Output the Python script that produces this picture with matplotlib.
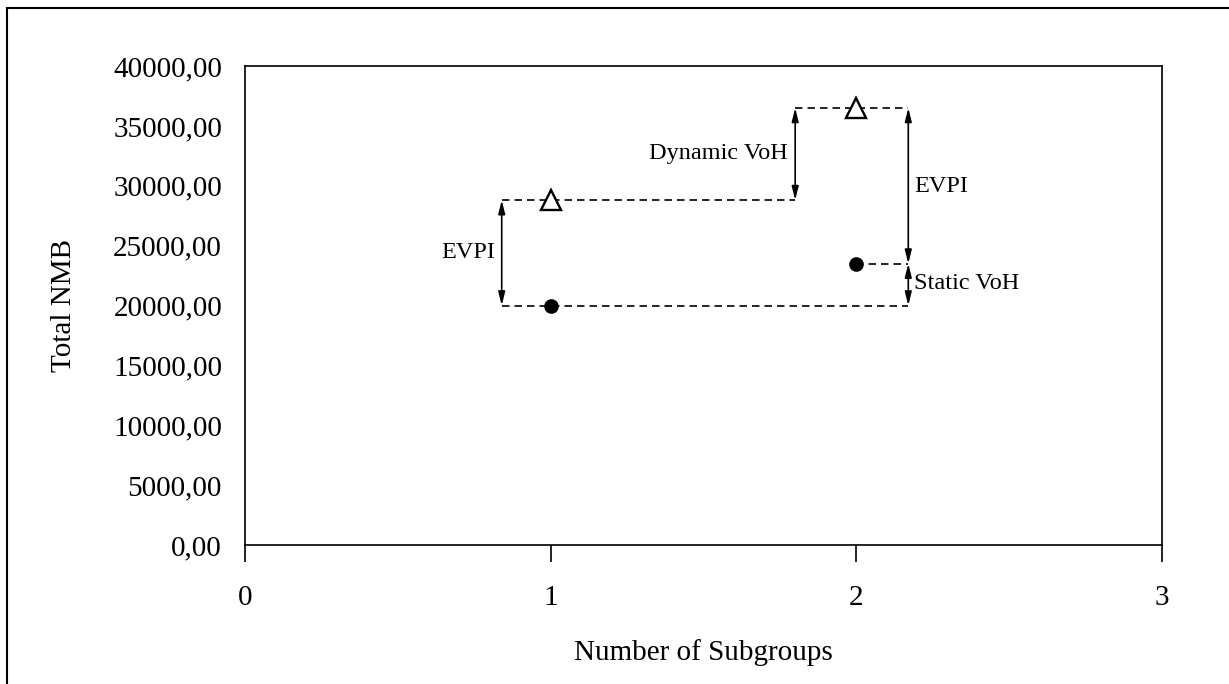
import matplotlib
matplotlib.use("Agg")
import matplotlib.pyplot as plt
from matplotlib.lines import Line2D
from matplotlib.ticker import FuncFormatter

plt.rcParams['font.family'] = ['Liberation Serif', 'DejaVu Serif']

# Werte
subgroups = [1, 2]
dynamic_nmb = [28800, 36500]   # Dreiecke
static_nmb = [20000, 23500]    # Punkte

# Hilfslinien / Pfeile (x-Positionen)
x_left = 0.84
x_mid = 1.80
x_right = 2.17

x_ticks = [0, 1, 2, 3]
y_ticks = list(range(0, 40001, 5000))

fig = plt.figure(figsize=(12.29, 6.84), dpi=100)
ax = fig.add_axes([0.1993, 0.2032, 0.7462, 0.7003])

dash = dict(color='black', lw=1.2, ls=(0, (4.5, 3)), zorder=1)
# gestrichelte Linien
ax.plot([x_left, x_mid], [dynamic_nmb[0], dynamic_nmb[0]], **dash)
ax.plot([x_mid, x_right], [dynamic_nmb[1], dynamic_nmb[1]], **dash)
ax.plot([subgroups[1], x_right], [static_nmb[1], static_nmb[1]], **dash)
ax.plot([x_left, x_right], [static_nmb[0], static_nmb[0]], **dash)

# Marker
ax.plot(subgroups, dynamic_nmb, ls='none', marker='^', ms=14, mfc='white',
        mec='black', mew=1.7, zorder=3)
ax.plot(subgroups, static_nmb, ls='none', marker='o', ms=9.5, color='black', zorder=3)


def pfeil(x, y0, y1):
    ax.annotate('', xy=(x, y1), xytext=(x, y0),
                arrowprops=dict(arrowstyle='<|-|>,head_length=0.8,head_width=0.2',
                                color='black', lw=1.2, shrinkA=0, shrinkB=0),
                zorder=2)


pfeil(x_left, static_nmb[0], dynamic_nmb[0])
pfeil(x_mid, dynamic_nmb[0], dynamic_nmb[1])
pfeil(x_right, static_nmb[1], dynamic_nmb[1])
pfeil(x_right, static_nmb[0], static_nmb[1])

fs_txt = 17.5
ax.text(0.818, 24400, 'EVPI', ha='right', va='center', fontsize=fs_txt)
ax.text(1.776, 32700, 'Dynamic VoH', ha='right', va='center', fontsize=fs_txt)
ax.text(2.19, 29900, 'EVPI', ha='left', va='center', fontsize=fs_txt)
ax.text(2.19, 21800, 'Static VoH', ha='left', va='center', fontsize=fs_txt)

ax.set_xlim(0, 3)
ax.set_ylim(0, 40000)
ax.set_xticks(x_ticks)
ax.set_yticks(y_ticks)
ax.yaxis.set_major_formatter(FuncFormatter(lambda v, p: f"{v:.2f}".replace('.', ',')))
ax.tick_params(axis='x', direction='out', length=12, width=1.2, pad=17, labelsize=21)
ax.tick_params(axis='y', length=0, pad=16.5, labelsize=21)
for s in ax.spines.values():
    s.set_linewidth(1.2)

ax.set_xlabel('Number of Subgroups', fontsize=21, labelpad=20)
ax.set_ylabel('Total NMB', fontsize=21, labelpad=26)

# Rahmen (links und oben)
fig.add_artist(Line2D([0.0057, 0.0057], [0.0, 0.9883], color='black', lw=1.5))
fig.add_artist(Line2D([0.0057, 1.0], [0.9883, 0.9883], color='black', lw=1.5))

fig.savefig('out.png', dpi=100, facecolor='white')
